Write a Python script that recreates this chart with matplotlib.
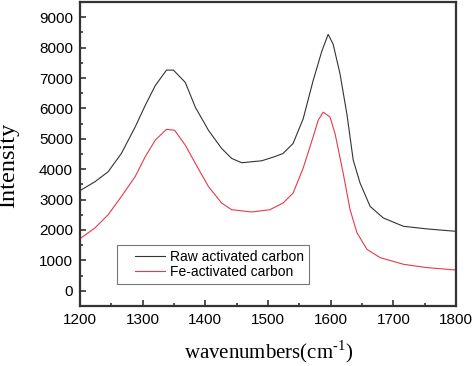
import matplotlib
matplotlib.use("Agg")
import matplotlib.pyplot as plt
from matplotlib.ticker import MultipleLocator
from matplotlib.legend_handler import HandlerLine2D

plt.rcParams["mathtext.fontset"] = "custom"
plt.rcParams["mathtext.rm"] = "Liberation Serif"

raw_x = [1202, 1224, 1245, 1266, 1288, 1304, 1320, 1338, 1349, 1368, 1384, 1405,
         1426, 1442, 1458, 1490, 1510, 1524, 1540, 1556, 1572, 1586, 1596, 1604,
         1615, 1626, 1636, 1647, 1663, 1684, 1716, 1753, 1798]
raw_y = [3320, 3590, 3918, 4518, 5387, 6095, 6748, 7260, 7260, 6856, 6040, 5279,
         4682, 4355, 4212, 4277, 4408, 4518, 4845, 5650, 6912, 7891, 8436, 8110,
         7130, 5800, 4300, 3539, 2775, 2396, 2122, 2037, 1959]

fe_x = [1202, 1224, 1245, 1266, 1288, 1304, 1320, 1338, 1351, 1368, 1384, 1405,
        1426, 1442, 1474, 1503, 1524, 1540, 1556, 1572, 1580, 1588, 1599, 1607,
        1620, 1631, 1642, 1658, 1679, 1716, 1753, 1798]
fe_y = [1743, 2070, 2504, 3102, 3755, 4408, 4953, 5312, 5280, 4790, 4192, 3428,
        2886, 2667, 2592, 2667, 2886, 3212, 4029, 5060, 5606, 5877, 5713, 5171,
        3866, 2667, 1906, 1361, 1090, 872, 764, 686]

labels = ["Raw activated carbon", "Fe-activated carbon"]

fig = plt.figure(figsize=(4.74, 3.66), dpi=100)
ax = fig.add_axes([0.1688, 0.164, 0.7932, 0.8305])

ax.plot(raw_x, raw_y, color="#333333", lw=0.8, label=labels[0])
ax.plot(fe_x, fe_y, color="#e63a48", lw=0.8, label=labels[1])

ax.set_xlim(1200, 1800)
ax.set_ylim(-500, 9500)
ax.xaxis.set_major_locator(MultipleLocator(100))
ax.xaxis.set_minor_locator(MultipleLocator(50))
ax.yaxis.set_major_locator(MultipleLocator(1000))
ax.yaxis.set_minor_locator(MultipleLocator(500))
ax.set_yticks(range(0, 10000, 1000))

for s in ax.spines.values():
    s.set_linewidth(1.6)
    s.set_color("#333333")

ax.tick_params(which="both", direction="in", top=False, right=False,
               color="#333333", width=1.2, labelsize=11, pad=5,
               labelfontfamily="Liberation Sans")
ax.tick_params(which="major", length=4.5)
ax.tick_params(which="minor", length=2.5)

ax.set_xlabel(r"wavenumbers(cm$^{\text{-1}}$)", fontsize=15,
              family="Liberation Serif")
ax.xaxis.set_label_coords(0.501, -0.106)
ax.set_ylabel("Intensity", fontsize=17.5, family="Liberation Serif")
ax.yaxis.set_label_coords(-0.189, 0.462)
ax.yaxis.label.set_va("center")

leg = ax.legend(loc="lower left", bbox_to_anchor=(0.0984, 0.072),
                prop={"family": "Liberation Sans", "size": 10},
                frameon=True, fancybox=False, edgecolor="#555555",
                handlelength=3.1, borderpad=0.35, labelspacing=0.12,
                handletextpad=0.36, borderaxespad=0,
                handler_map={matplotlib.lines.Line2D: HandlerLine2D(xpad=0.95)})
leg.get_frame().set_linewidth(0.8)

fig.savefig("out.png", dpi=100)
